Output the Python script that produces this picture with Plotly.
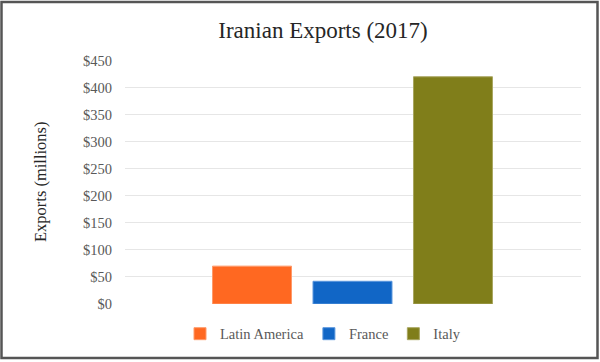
import plotly.graph_objects as go

title = "Iranian Exports (2017)"
y_title = "Exports (millions)"
regions = ["Latin America", "France", "Italy"]
exports = [70, 42, 420]
colors = ["#FF6821", "#1166C6", "#807E1A"]
edge_colors = ["#FF9A6A", "#5A96DD", "#A8A660"]
y_ticks = [0, 50, 100, 150, 200, 250, 300, 350, 400, 450]
y_tick_labels = ["$" + str(v) for v in y_ticks]

SERIF = "Liberation Serif, Times New Roman, serif"
GRAY = "#595959"

fig = go.Figure()
for name, val, c, ec in zip(regions, exports, colors, edge_colors):
    fig.add_trace(go.Bar(
        x=[name], y=[val], name=name, width=0.786,
        marker=dict(color=c, line=dict(color=ec, width=1)),
    ))

L, R, T, B = 125, 19, 60, 56
W, H = 600, 362
pw = W - L - R
ph = H - T - B

fig.update_layout(
    width=W, height=H,
    margin=dict(l=L, r=R, t=T, b=B),
    paper_bgcolor="white", plot_bgcolor="white",
    barmode="overlay",
    title=dict(text=title, x=323 / W, xanchor="center", xref="container",
               y=1 - 30 / H, yanchor="middle", yref="container",
               font=dict(family=SERIF, size=23, color="#262626")),
    xaxis=dict(type="category", categoryorder="array", categoryarray=regions,
               range=[-1.264, 3.274], showticklabels=False, showgrid=False,
               zeroline=False, showline=False, fixedrange=True),
    yaxis=dict(range=[0, 451], tickvals=y_ticks, ticktext=y_tick_labels,
               tickfont=dict(family=SERIF, size=14.5, color=GRAY),
               showgrid=True, gridcolor="#E6E6E6", gridwidth=1,
               zeroline=False, showline=False, ticks="", ticklen=0,
               ticklabelstandoff=12),
    legend=dict(orientation="h", x=(323 - L) / pw, xanchor="center",
                y=-(336 - (T + ph)) / ph, yanchor="middle",
                font=dict(family=SERIF, size=14.5, color=GRAY),
                itemwidth=30, traceorder="normal"),
    showlegend=True,
    annotations=[dict(text=y_title, textangle=-90, xref="paper", yref="paper",
                      x=(40 - L) / pw, y=0.5, xanchor="center", yanchor="middle",
                      showarrow=False,
                      font=dict(family=SERIF, size=16.5, color="#262626"))],
    shapes=[dict(type="rect", xref="paper", yref="paper",
                 x0=(1.5 - L) / pw, x1=(597.5 - L) / pw,
                 y0=-(360.5 - (T + ph)) / ph, y1=1 + (T - 1.5) / ph,
                 line=dict(color="#555555", width=2.5), fillcolor="rgba(0,0,0,0)",
                 layer="above")],
)

fig.write_html("out.html", config={"displayModeBar": False},
               post_script="document.body.style.margin='0';document.body.style.overflow='hidden';")
